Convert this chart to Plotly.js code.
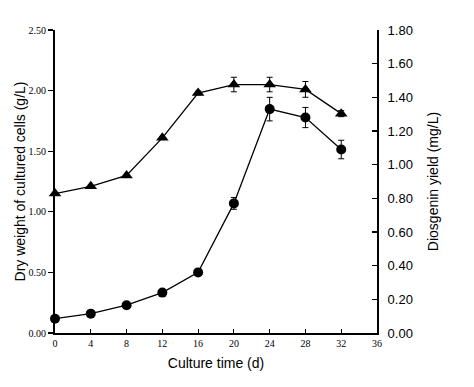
<!DOCTYPE html>
<html><head><meta charset="utf-8">
<script src="https://cdn.plot.ly/plotly-3.0.1.min.js"></script>
<style>body{margin:0;background:#fff}#c{width:474px;height:387px}</style>
</head><body><div id="c"></div>
<script>
var days = [0, 4, 8, 12, 16, 20, 24, 28, 32];
var dryWeight = [1.15, 1.21, 1.30, 1.61, 1.98, 2.05, 2.05, 2.01, 1.81];
var dryWeightErr = [0, 0, 0, 0, 0.015, 0.06, 0.06, 0.065, 0.025];
var diosgenin = [0.085, 0.115, 0.165, 0.24, 0.36, 0.77, 1.33, 1.28, 1.09];
var diosgeninErr = [0, 0, 0, 0, 0, 0.035, 0.07, 0.06, 0.055];
var xTicks = [0, 4, 8, 12, 16, 20, 24, 28, 32, 36];

var traces = [
  {x: days, y: dryWeight, type: 'scatter', mode: 'lines+markers', yaxis: 'y',
   line: {color: '#000', width: 1.3},
   marker: {symbol: 'triangle-up', size: 11, color: '#000'},
   error_y: {type: 'data', array: dryWeightErr, visible: true, color: '#000', thickness: 1, width: 3},
   cliponaxis: false, showlegend: false},
  {x: days, y: diosgenin, type: 'scatter', mode: 'lines+markers', yaxis: 'y2',
   line: {color: '#000', width: 1.3},
   marker: {symbol: 'circle', size: 10, color: '#000'},
   error_y: {type: 'data', array: diosgeninErr, visible: true, color: '#000', thickness: 1, width: 3},
   cliponaxis: false, showlegend: false}
];

var layout = {
  width: 474, height: 387,
  margin: {l: 55, r: 97, t: 30, b: 54},
  paper_bgcolor: '#fff', plot_bgcolor: '#fff',
  showlegend: false,
  xaxis: {
    range: [0, 36], tickvals: xTicks, ticktext: xTicks.map(String),
    ticks: 'inside', ticklen: 4, tickwidth: 1.2, tickcolor: '#000',
    showline: true, linecolor: '#000', linewidth: 2, showgrid: false, zeroline: false,
    tickfont: {family: 'Liberation Serif, Times New Roman, serif', size: 10, color: '#000'},
    title: {text: 'Culture time (d)', font: {family: 'Liberation Sans, Arial, sans-serif', size: 14, color: '#000'}, standoff: 10}
  },
  yaxis: {
    range: [0, 2.5], dtick: 0.5, tickformat: '.2f',
    ticks: 'outside', ticklen: 5, tickwidth: 1.2, tickcolor: '#000',
    showline: true, linecolor: '#000', linewidth: 2, showgrid: false, zeroline: false,
    tickfont: {family: 'Liberation Serif, Times New Roman, serif', size: 10, color: '#000'},
    title: {text: 'Dry weight of cultured cells (g/L)', font: {family: 'Liberation Sans, Arial, sans-serif', size: 14, color: '#000'}, standoff: 0}
  },
  yaxis2: {
    range: [0, 1.8], dtick: 0.2, tickformat: '.2f',
    overlaying: 'y', side: 'right', anchor: 'x',
    ticks: 'inside', ticklen: 5, tickwidth: 1.2, tickcolor: '#000',
    ticklabelstandoff: 6,
    showline: true, linecolor: '#000', linewidth: 2, showgrid: false, zeroline: false,
    tickfont: {family: 'Liberation Sans, Arial, sans-serif', size: 13, color: '#000'},
    title: {text: 'Diosgenin yield (mg/L)', font: {family: 'Liberation Sans, Arial, sans-serif', size: 14, color: '#000'}, standoff: 16}
  }
};

Plotly.newPlot('c', traces, layout, {displayModeBar: false, staticPlot: true});
</script>
</body></html>
